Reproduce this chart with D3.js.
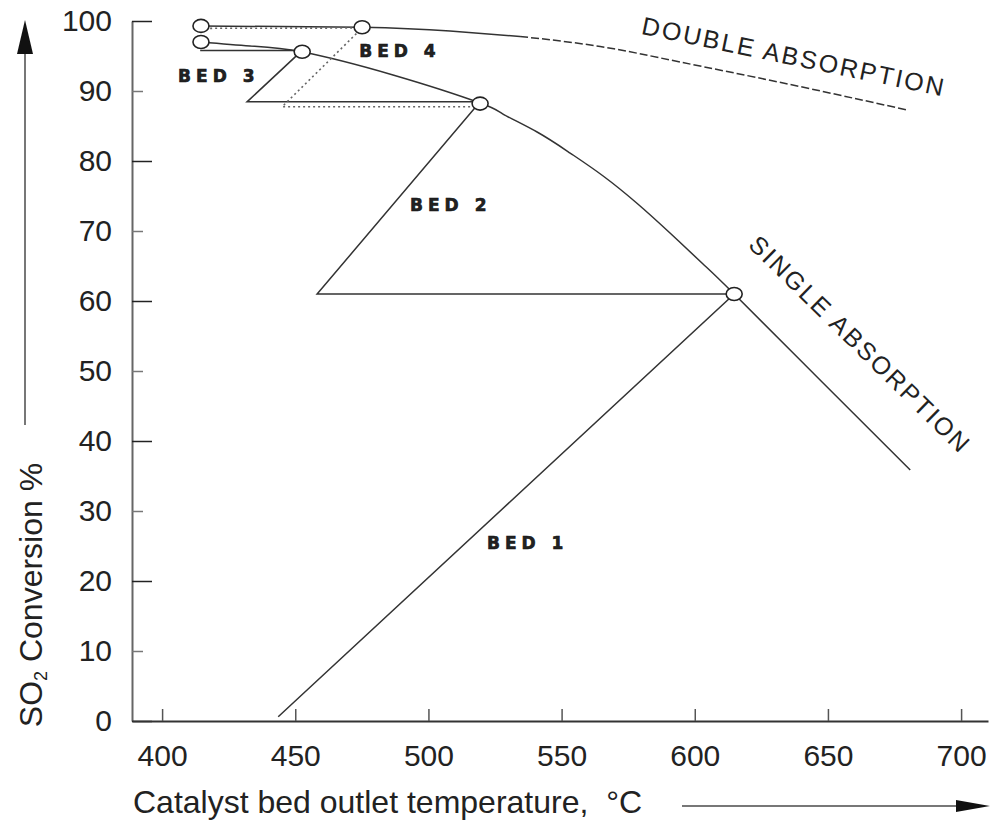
<!DOCTYPE html>
<html>
<head>
<meta charset="utf-8">
<script src="https://cdn.jsdelivr.net/npm/d3@7"></script>
<style>
  body { margin: 0; background: #fff; }
  text { font-family: "Liberation Sans", Arial, sans-serif; fill: #222; }
</style>
</head>
<body>
<svg id="chart"></svg>
<script>
// axis ticks
const xTicks = [400, 450, 500, 550, 600, 650, 700];
const yTicks = [0, 10, 20, 30, 40, 50, 60, 70, 80, 90, 100];

// equilibrium curves [temperature, conversion]
const singleCurve = [
  [414.6, 97.0], [433.0, 96.43], [452.6, 95.57], [486.7, 92.29], [519.4, 88.29],
  [528.0, 86.71], [540.8, 84.14], [553.2, 81.14], [565.6, 77.86], [578.4, 73.93],
  [590.7, 69.71], [603.1, 65.29], [614.8, 61.0], [647.8, 48.43], [680.9, 35.86]
];
const doubleCurveSolid = [[414.6, 99.3], [475.1, 99.1], [508.1, 98.57], [534.4, 97.79]];
const doubleCurveDashed = [[534.4, 97.79], [564.5, 96.36], [594.5, 94.14], [633.2, 91.14], [679.7, 87.29]];

// bed reaction / cooling steps
const bedSteps = [
  [443.6, 0.6], [614.8, 61.0], [458.2, 61.0], [519.4, 88.45],
  [431.9, 88.45], [452.6, 95.8], [414.3, 95.8]
];
const bedStepsDotted = [[519.4, 87.76], [445.1, 87.76], [475.1, 99.0], [415.4, 98.95]];

// bed outlet points
const outletPoints = [[414.6, 99.3], [414.6, 97.0], [452.6, 95.6], [475.1, 99.1], [519.4, 88.2], [614.8, 61.0]];

// labels
const bedLabels = [
  { text: "BED 1", t: 522.0, v: 24.6 },
  { text: "BED 2", t: 493.1, v: 72.9 },
  { text: "BED 3", t: 406.0, v: 91.3 },
  { text: "BED 4", t: 474.0, v: 94.9 }
];
const curveLabels = [
  { text: "DOUBLE ABSORPTION", t: 636.6, v: 93.7, angle: 11.7 },
  { text: "SINGLE ABSORPTION", t: 659.8, v: 52.9, angle: 44.4 }
];

const width = 994, height = 823;

const svg = d3.select("#chart")
  .attr("width", width)
  .attr("height", height)
  .style("background", "#fff");

const x = d3.scaleLinear().domain([388.7, 710.1]).range([132, 988]);
const y = d3.scaleLinear().domain([0, 100]).range([721, 21]);

// Axes
const yAxis = svg.append("g")
  .attr("transform", `translate(${x.range()[0]},0)`)
  .call(d3.axisLeft(y).tickValues(yTicks).tickSize(-20).tickSizeOuter(0).tickPadding(20));
yAxis.select(".domain").attr("stroke", "#666").attr("stroke-width", 2);
yAxis.selectAll(".tick line")
  .attr("x2", d => d % 20 === 0 ? 20 : 11)
  .attr("stroke", d => d % 20 === 0 ? "#222" : "#777")
  .attr("stroke-width", 1.5);
yAxis.selectAll(".tick text")
  .style("font-size", "30px")
  .attr("fill", "#222");

const xAxis = svg.append("g")
  .attr("transform", `translate(0,${y(0)})`)
  .call(d3.axisBottom(x).tickValues(xTicks).tickSize(-12).tickSizeOuter(0).tickPadding(24));
xAxis.select(".domain").attr("stroke", "#333").attr("stroke-width", 2);
xAxis.selectAll(".tick line").attr("stroke", "#555").attr("stroke-width", 1.5);
xAxis.selectAll(".tick text")
  .style("font-size", "30px")
  .attr("fill", "#222");

// Axis titles
const yTitle = svg.append("text")
  .attr("transform", "translate(42,595) rotate(-90)")
  .attr("text-anchor", "middle")
  .style("font-size", "32px");
yTitle.append("tspan").text("SO");
yTitle.append("tspan").text("2").style("font-size", "18px").attr("dy", 5);
yTitle.append("tspan").text(" Conversion %").attr("dy", -5);

svg.append("text")
  .attr("x", 133)
  .attr("y", 813)
  .style("font-size", "32px")
  .style("white-space", "pre")
  .text("Catalyst bed outlet temperature,\u00a0 \u00b0C");

// Arrows
svg.append("line")
  .attr("x1", 25).attr("x2", 25)
  .attr("y1", 425).attr("y2", 50)
  .attr("stroke", "#777").attr("stroke-width", 2);
svg.append("path")
  .attr("d", "M25,20 L33,54 L17,54 Z")
  .attr("fill", "#111");

svg.append("line")
  .attr("x1", 682).attr("x2", 960)
  .attr("y1", 806).attr("y2", 806)
  .attr("stroke", "#777").attr("stroke-width", 2);
svg.append("path")
  .attr("d", "M990,806 L956,800 L956,812 Z")
  .attr("fill", "#111");

// Curves
const curve = d3.line()
  .x(d => x(d[0]))
  .y(d => y(d[1]))
  .curve(d3.curveNatural);

const straight = d3.line()
  .x(d => x(d[0]))
  .y(d => y(d[1]));

svg.append("path")
  .attr("d", curve(singleCurve))
  .attr("fill", "none")
  .attr("stroke", "#333")
  .attr("stroke-width", 1.5);

svg.append("path")
  .attr("d", curve(doubleCurveSolid))
  .attr("fill", "none")
  .attr("stroke", "#333")
  .attr("stroke-width", 1.5);

svg.append("path")
  .attr("d", curve(doubleCurveDashed))
  .attr("fill", "none")
  .attr("stroke", "#333")
  .attr("stroke-width", 1.5)
  .attr("stroke-dasharray", "8,3");

// Bed steps
svg.append("path")
  .attr("d", straight(bedSteps))
  .attr("fill", "none")
  .attr("stroke", "#333")
  .attr("stroke-width", 1.5);

svg.append("path")
  .attr("d", straight(bedStepsDotted))
  .attr("fill", "none")
  .attr("stroke", "#666")
  .attr("stroke-width", 1.6)
  .attr("stroke-dasharray", "2,3");

// Outlet points
svg.append("g")
  .selectAll("ellipse")
  .data(outletPoints)
  .join("ellipse")
  .attr("cx", d => x(d[0]))
  .attr("cy", d => y(d[1]))
  .attr("rx", 8)
  .attr("ry", 6.5)
  .attr("fill", "#fff")
  .attr("stroke", "#222")
  .attr("stroke-width", 1.6);

// Labels
svg.append("g")
  .selectAll("text")
  .data(bedLabels)
  .join("text")
  .attr("x", d => x(d.t))
  .attr("y", d => y(d.v))
  .style("font-family", "'DejaVu Sans', sans-serif")
  .style("font-weight", "900")
  .style("font-size", "17px")
  .style("letter-spacing", "5px")
  .style("stroke", "#111")
  .style("stroke-width", "0.6px")
  .attr("fill", "#111")
  .text(d => d.text);

svg.append("g")
  .selectAll("text")
  .data(curveLabels)
  .join("text")
  .attr("transform", d => `translate(${x(d.t)},${y(d.v)}) rotate(${d.angle})`)
  .attr("text-anchor", "middle")
  .style("font-size", "25px")
  .style("letter-spacing", "2.2px")
  .attr("fill", "#222")
  .text(d => d.text);
</script>
</body>
</html>
